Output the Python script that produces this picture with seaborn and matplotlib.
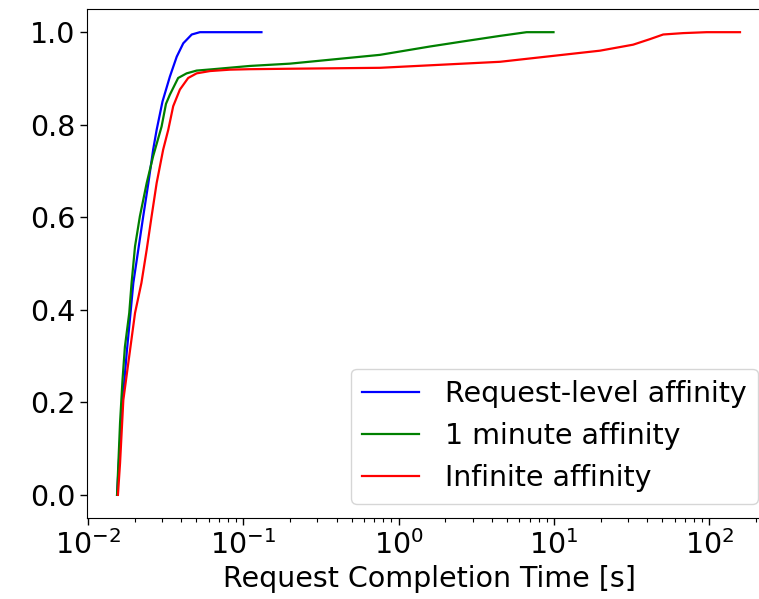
import seaborn as sns
import pandas as pd
import matplotlib.pyplot as plt

# CDF points (x in seconds, y = cumulative fraction)
req_x = [0.0154, 0.0165, 0.0178, 0.0188, 0.0196, 0.0211, 0.0227, 0.0245,
         0.0263, 0.0277, 0.0302, 0.0337, 0.0373, 0.0411, 0.0466, 0.0526, 0.131]
req_y = [0.0, 0.18, 0.31, 0.393, 0.458, 0.53, 0.602, 0.674,
         0.746, 0.789, 0.85, 0.904, 0.947, 0.976, 0.995, 1.0, 1.0]

min_x = [0.0154, 0.0161, 0.0167, 0.0173, 0.01845, 0.0191, 0.0201, 0.0216,
         0.0239, 0.0263, 0.0298, 0.0318, 0.0337, 0.0381, 0.0432, 0.0501,
         0.0641, 0.110, 0.2, 0.759, 1.59, 2.60, 4.50, 6.68, 9.95]
min_y = [0.0, 0.156, 0.249, 0.32, 0.393, 0.458, 0.537, 0.602,
         0.674, 0.732, 0.796, 0.845, 0.865, 0.901, 0.911, 0.917,
         0.920, 0.927, 0.932, 0.951, 0.969, 0.98, 0.992, 1.0, 1.0]

inf_x = [0.0156, 0.0161, 0.0169, 0.0201, 0.0221, 0.0239, 0.0257, 0.0277,
         0.0305, 0.0329, 0.0354, 0.0391, 0.0442, 0.0501, 0.0611, 0.0821,
         0.110, 0.2, 0.759, 4.50, 9.44, 19.8, 32.4, 41.6, 50.6, 68.1,
         96.4, 158.0]
inf_y = [0.0, 0.069, 0.205, 0.393, 0.458, 0.53, 0.602, 0.674,
         0.746, 0.789, 0.84, 0.876, 0.901, 0.911, 0.916, 0.919,
         0.92, 0.921, 0.923, 0.936, 0.948, 0.96, 0.973, 0.985, 0.995, 0.998,
         1.0, 1.0]

labels = ['Request-level affinity', '1 minute affinity', 'Infinite affinity']
colors = ['blue', 'green', 'red']

plt.rcParams['font.size'] = 20.5

fig = plt.figure(figsize=(7.59, 5.99), dpi=100)
ax = fig.add_axes([0.1146, 0.1352, 0.9028, 0.8497])

for xs, ys, label, color in zip([req_x, min_x, inf_x], [req_y, min_y, inf_y], labels, colors):
    df = pd.DataFrame({'x': xs, 'y': ys})
    sns.lineplot(data=df, x='x', y='y', ax=ax, color=color, label=label,
                 sort=False, estimator=None, linewidth=1.6)

ax.set_xscale('log')
ax.set_xlim(0.00986, 254.7)
ax.set_ylim(-0.05, 1.05)
ax.set_xlabel('Request Completion Time [s]')
ax.set_ylabel('')
ax.tick_params(which='major', length=5, width=1)
ax.tick_params(which='minor', length=3, width=0.8)
ax.legend(loc='lower right', handletextpad=0.9)

fig.savefig('out.png', dpi=100)
